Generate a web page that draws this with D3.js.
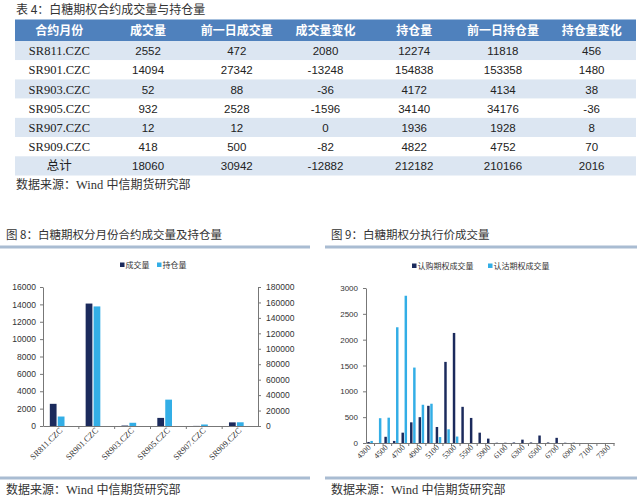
<!DOCTYPE html>
<html>
<head>
<meta charset="utf-8">
<script src="https://cdn.jsdelivr.net/npm/d3@7"></script>
<style>
  body { margin: 0; background: #fff; }
</style>
</head>
<body>
<script>
// table 4 data
const headers = ['合约月份', '成交量', '前一日成交量', '成交量变化', '持仓量', '前一日持仓量', '持仓量变化'];
const contracts = ['SR811.CZC', 'SR901.CZC', 'SR903.CZC', 'SR905.CZC', 'SR907.CZC', 'SR909.CZC'];
const volume = [2552, 14094, 52, 932, 12, 418];
const prevVolume = [472, 27342, 88, 2528, 12, 500];
const volumeChange = [2080, -13248, -36, -1596, 0, -82];
const openInt = [12274, 154838, 4172, 34140, 1936, 4822];
const prevOpenInt = [11818, 153358, 4134, 34176, 1928, 4752];
const openIntChange = [456, 1480, 38, -36, 8, 70];
const totalRow = ['总计', 18060, 30942, -12882, 212182, 210166, 2016];

// figure 9 data (by strike)
const strikes = ['4300', '4400', '4500', '4600', '4700', '4800', '4900', '5000', '5100', '5200', '5300', '5400', '5500', '5700',
  '5900', '6000', '6100', '6200', '6300', '6400', '6500', '6600', '6700', '6800', '6900', '7000', '7100', '7200', '7300'];
const callVolume = [20, 0, 120, 40, 200, 400, 500, 720, 310, 1570, 2130, 700, 485, 200,
  85, 5, 5, 10, 65, 10, 145, 10, 100, 5, 5, 0, 0, 0, 0];
const putVolume = [40, 480, 490, 2240, 2850, 1460, 740, 760, 115, 265, 125, 0, 0, 0,
  0, 0, 0, 0, 0, 0, 0, 0, 0, 0, 0, 0, 0, 0, 0];

const leftTicks = [0, 2000, 4000, 6000, 8000, 10000, 12000, 14000, 16000];
const rightTicks = [0, 20000, 40000, 60000, 80000, 100000, 120000, 140000, 160000, 180000];
const fig9Ticks = [0, 500, 1000, 1500, 2000, 2500, 3000];

const dark = '#1b2a5c';
const light = '#33aee6';
const ink = '#333';
const sans = '"Liberation Sans", Arial, sans-serif';
const serif = '"Liberation Serif", "Times New Roman", serif';
const cjk = '"Noto Sans CJK SC", sans-serif';
const plain = d3.format('d');

const svg = d3.select('body').append('svg')
  .attr('width', 640)
  .attr('height', 500)
  .attr('font-family', cjk)
  .style('white-space', 'pre');

svg.append('rect').attr('width', 640).attr('height', 500).attr('fill', '#fff');

const sourceLine = (x, y) => {
  const t = svg.append('text')
    .attr('x', x).attr('y', y)
    .attr('font-size', 12).attr('fill', ink);
  t.append('tspan').text('数据来源：');
  t.append('tspan').attr('font-family', serif).attr('font-size', 12.5).text('Wind ');
  t.append('tspan').text(' 中信期货研究部');
};

// ---------- table ----------
svg.append('text')
  .attr('x', 16).attr('y', 14)
  .attr('font-size', 12).attr('fill', ink)
  .text('表 4：白糖期权合约成交量与持仓量');

const colX = d3.scaleBand().domain(headers).range([15, 636]);
const rows = contracts.map((c, i) => [c, volume[i], prevVolume[i], volumeChange[i], openInt[i], prevOpenInt[i], openIntChange[i]]);
rows.push(totalRow);
const rowY = d3.scaleBand().domain(d3.range(rows.length)).range([41, 175.5]);

svg.append('rect')
  .attr('x', 15).attr('y', 19.5)
  .attr('width', 621).attr('height', 21.5)
  .attr('fill', '#4f81bd');

svg.selectAll('.hdr')
  .data(headers)
  .join('text')
  .attr('class', 'hdr')
  .attr('x', d => colX(d) + colX.bandwidth() / 2)
  .attr('y', 34.5)
  .attr('text-anchor', 'middle')
  .attr('font-size', 12)
  .attr('font-weight', 'bold')
  .attr('fill', '#fff')
  .text(d => d);

const rowG = svg.selectAll('.row')
  .data(rows)
  .join('g')
  .attr('class', 'row')
  .attr('transform', (_, i) => `translate(0, ${rowY(i)})`);

rowG.append('rect')
  .attr('x', 15).attr('width', 621)
  .attr('height', rowY.bandwidth())
  .attr('fill', (_, i) => i % 2 === 0 ? '#dce6f2' : '#fff');

rowG.selectAll('text')
  .data(d => d)
  .join('text')
  .attr('x', (_, j) => colX(headers[j]) + colX.bandwidth() / 2)
  .attr('y', rowY.bandwidth() / 2 + 4.5)
  .attr('text-anchor', 'middle')
  .attr('fill', '#222')
  .attr('font-size', (_, j) => j === 0 ? 12.5 : 11.5)
  .attr('font-family', (d, j) => j > 0 ? sans : (d === '总计' ? cjk : serif))
  .text(d => d);

sourceLine(16, 189);

// ---------- shared helpers ----------
const drawFrame = (x0, x1, title) => {
  svg.append('text')
    .attr('x', x0 + 6).attr('y', 239)
    .attr('font-size', 11.5).attr('fill', ink)
    .text(title);
  svg.append('line')
    .attr('x1', x0).attr('x2', x1)
    .attr('y1', 247).attr('y2', 247)
    .attr('stroke', '#a9bcd2').attr('stroke-width', 3);
  svg.append('line')
    .attr('x1', x0).attr('x2', x1)
    .attr('y1', 478).attr('y2', 478)
    .attr('stroke', '#a9bcd2').attr('stroke-width', 3);
  sourceLine(x0 + 6, 494);
};

const drawLegend = (items, y) => {
  items.forEach(it => {
    svg.append('rect')
      .attr('x', it.x).attr('y', y - 3.5)
      .attr('width', 4.5).attr('height', 4.5)
      .attr('fill', it.color);
    svg.append('text')
      .attr('x', it.x + 5.5).attr('y', y + 1.5)
      .attr('font-size', 8).attr('fill', ink)
      .text(it.name);
  });
};

const styleAxis = g => {
  g.selectAll('.domain').attr('stroke', '#777');
  g.selectAll('.tick line').attr('stroke', '#777');
  g.selectAll('.tick text').attr('fill', ink).attr('font-family', sans);
};

// ---------- figure 8 ----------
drawFrame(0, 310, '图 8：白糖期权分月份合约成交量及持仓量');
drawLegend([
  { name: '成交量', color: dark, x: 120 },
  { name: '持仓量', color: light, x: 157 }
], 266);

const x8 = d3.scaleBand().domain(contracts).range([43, 258]);
const bw8 = x8.bandwidth();
const inner8 = d3.scaleBand().domain(['vol', 'oi']).range([bw8 * 0.19, bw8 * 0.6]).paddingInner(0.15);
const y8L = d3.scaleLinear().domain([0, 16000]).range([426, 287]);
const y8R = d3.scaleLinear().domain([0, 180000]).range([426, 287]);

svg.selectAll('.bar8v')
  .data(contracts)
  .join('rect')
  .attr('x', d => x8(d) + inner8('vol'))
  .attr('y', (_, i) => y8L(volume[i]))
  .attr('width', inner8.bandwidth())
  .attr('height', (_, i) => y8L(0) - y8L(volume[i]))
  .attr('fill', dark);

svg.selectAll('.bar8o')
  .data(contracts)
  .join('rect')
  .attr('x', d => x8(d) + inner8('oi'))
  .attr('y', (_, i) => y8R(openInt[i]))
  .attr('width', inner8.bandwidth())
  .attr('height', (_, i) => y8R(0) - y8R(openInt[i]))
  .attr('fill', light);

svg.append('g')
  .attr('transform', 'translate(43, 0)')
  .call(d3.axisLeft(y8L).tickValues(leftTicks).tickFormat(plain).tickSize(3).tickSizeOuter(0).tickPadding(4))
  .attr('font-size', 8.5)
  .call(styleAxis);

svg.append('g')
  .attr('transform', 'translate(258, 0)')
  .call(d3.axisRight(y8R).tickValues(rightTicks).tickFormat(plain).tickSize(3).tickSizeOuter(0).tickPadding(5))
  .attr('font-size', 8.5)
  .call(styleAxis);

const xa8 = svg.append('g')
  .attr('transform', 'translate(0, 426)')
  .call(d3.axisBottom(x8).tickSize(0).tickSizeOuter(0).tickFormat(''))
  .call(styleAxis);
xa8.selectAll('.bnd')
  .data(contracts.slice(1))
  .join('line')
  .attr('x1', d => x8(d)).attr('x2', d => x8(d))
  .attr('y1', 0).attr('y2', 3)
  .attr('stroke', '#777');

svg.selectAll('.lbl8')
  .data(contracts)
  .join('text')
  .attr('transform', d => `translate(${x8(d) + bw8 / 2 + 2}, 431) rotate(-45)`)
  .attr('text-anchor', 'end')
  .attr('font-size', 8.5)
  .attr('font-family', serif)
  .attr('fill', ink)
  .text(d => d);

// ---------- figure 9 ----------
drawFrame(325, 637, '图 9：白糖期权分执行价成交量');
drawLegend([
  { name: '认购期权成交量', color: dark, x: 412 },
  { name: '认沽期权成交量', color: light, x: 488 }
], 267);

const x9 = d3.scaleBand().domain(strikes).range([366, 614]);
const bw9 = x9.bandwidth();
const inner9 = d3.scaleBand().domain(['call', 'put']).range([bw9 * 0.15, bw9 * 0.8]).paddingInner(0.2);
const y9 = d3.scaleLinear().domain([0, 3000]).range([443, 288]);

svg.selectAll('.bar9c')
  .data(strikes)
  .join('rect')
  .attr('x', d => x9(d) + inner9('call'))
  .attr('y', (_, i) => y9(callVolume[i]))
  .attr('width', inner9.bandwidth())
  .attr('height', (_, i) => y9(0) - y9(callVolume[i]))
  .attr('fill', dark);

svg.selectAll('.bar9p')
  .data(strikes)
  .join('rect')
  .attr('x', d => x9(d) + inner9('put'))
  .attr('y', (_, i) => y9(putVolume[i]))
  .attr('width', inner9.bandwidth())
  .attr('height', (_, i) => y9(0) - y9(putVolume[i]))
  .attr('fill', light);

svg.append('g')
  .attr('transform', 'translate(366, 0)')
  .call(d3.axisLeft(y9).tickValues(fig9Ticks).tickFormat(plain).tickSize(3).tickSizeOuter(0).tickPadding(5))
  .attr('font-size', 8)
  .call(styleAxis);

const xa9 = svg.append('g')
  .attr('transform', 'translate(0, 443)')
  .call(d3.axisBottom(x9).tickSize(0).tickSizeOuter(0).tickFormat(''))
  .call(styleAxis);
xa9.selectAll('.bnd')
  .data(strikes)
  .join('line')
  .attr('x1', d => x9(d) + bw9).attr('x2', d => x9(d) + bw9)
  .attr('y1', 0).attr('y2', 3)
  .attr('stroke', '#777');

svg.selectAll('.lbl9')
  .data(strikes.filter((_, i) => i % 2 === 0))
  .join('text')
  .attr('transform', d => `translate(${x9(d) + bw9 / 2 + 1}, 448) rotate(-45)`)
  .attr('text-anchor', 'end')
  .attr('font-size', 8)
  .attr('font-family', serif)
  .attr('fill', ink)
  .text(d => d);
</script>
</body>
</html>
